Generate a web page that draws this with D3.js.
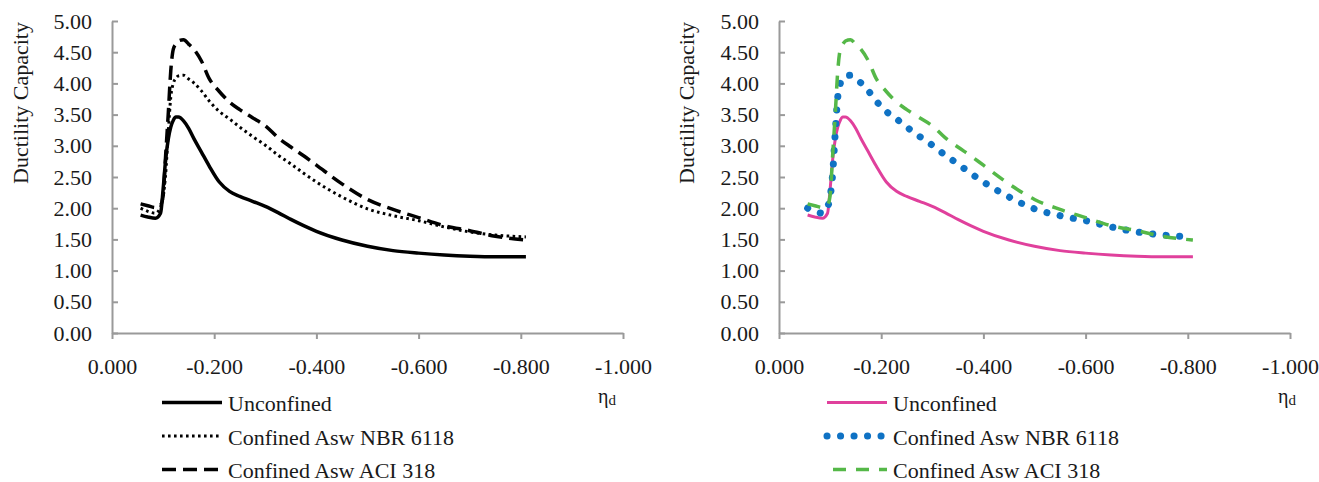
<!DOCTYPE html>
<html>
<head>
<meta charset="utf-8">
<script src="https://cdn.jsdelivr.net/npm/d3@7"></script>
<style>
  body { margin: 0; background: #fff; }
  svg text { font-family: "Liberation Serif", "Times New Roman", serif; fill: #1a1a1a; }
</style>
</head>
<body>
<script>
  /* DATA */
  var eta = [-0.056, -0.07, -0.085, -0.095, -0.10, -0.105, -0.11, -0.115, -0.12, -0.125,
    -0.13, -0.14, -0.15, -0.16, -0.175, -0.19, -0.21, -0.23, -0.25, -0.275,
    -0.30, -0.325, -0.35, -0.375, -0.40, -0.45, -0.50, -0.55, -0.60, -0.65,
    -0.70, -0.75, -0.81];

  var unconfined = [1.89, 1.86, 1.84, 1.92, 2.30, 2.78, 3.10, 3.30, 3.41, 3.46,
    3.46, 3.40, 3.28, 3.12, 2.90, 2.68, 2.42, 2.27, 2.19, 2.11,
    2.03, 1.93, 1.82, 1.72, 1.63, 1.49, 1.39, 1.32, 1.28, 1.25,
    1.23, 1.22, 1.22];

  var nbr6118 = [2.00, 1.95, 1.92, 2.02, 2.18, 2.55, 3.20, 3.78, 4.00, 4.08,
    4.12, 4.13, 4.07, 4.01, 3.88, 3.72, 3.55, 3.43, 3.30, 3.15,
    3.01, 2.85, 2.71, 2.56, 2.42, 2.18, 1.99, 1.88, 1.80, 1.70,
    1.62, 1.57, 1.54];

  var aci318 = [2.07, 2.04, 2.01, 2.05, 2.20, 2.85, 3.50, 4.20, 4.55, 4.63,
    4.68, 4.70, 4.63, 4.55, 4.36, 4.08, 3.87, 3.70, 3.58, 3.45,
    3.32, 3.13, 2.98, 2.84, 2.69, 2.39, 2.14, 1.98, 1.85, 1.72,
    1.64, 1.55, 1.49];

  var seriesNames = ["Unconfined", "Confined Asw NBR 6118", "Confined Asw ACI 318"];
  var xTicks = [0, -0.2, -0.4, -0.6, -0.8, -1.0];
  var yTicks = [0, 0.5, 1, 1.5, 2, 2.5, 3, 3.5, 4, 4.5, 5];

  /* DIMENSIONS */
  var width = 1319, height = 482;
  var plotTop = 21, plotBottom = 333, plotW = 511;

  var svg = d3.select("body").append("svg")
    .attr("width", width)
    .attr("height", height);

  var styles = {
    mono: [
      { color: "#000", width: 3.5, dash: null, cap: "butt" },
      { color: "#000", width: 3, dash: "2.6 3.4", cap: "butt" },
      { color: "#000", width: 3.5, dash: "14 7", cap: "butt" }
    ],
    color: [
      { color: "#e0409c", width: 3, dash: null, cap: "butt" },
      { color: "#0f72c4", width: 7, dash: "0.1 13.4", cap: "round" },
      { color: "#55b848", width: 3.5, dash: "13 10", cap: "butt", legendOffset: 17 }
    ]
  };

  var panels = [
    { left: 112, style: styles.mono, labelX: 28, legendX: 162, etaX: 598 },
    { left: 779, style: styles.color, labelX: 694, legendX: 827, etaX: 1278 }
  ];

  var allSeries = [unconfined, nbr6118, aci318];

  panels.forEach(function(p) {
    var x = d3.scaleLinear().domain([0, -1]).range([p.left, p.left + plotW]);
    var y = d3.scaleLinear().domain([0, 5]).range([plotBottom, plotTop]);

    // y axis, ticks pointing inward
    var ya = svg.append("g")
      .attr("transform", `translate(${p.left},0)`)
      .call(d3.axisLeft(y).tickValues(yTicks).tickSizeInner(-6).tickSizeOuter(0)
        .tickPadding(20).tickFormat(function(d) { return d.toFixed(2); }));

    var xa = svg.append("g")
      .attr("transform", `translate(0,${plotBottom})`)
      .call(d3.axisBottom(x).tickValues(xTicks).tickSizeInner(6).tickSizeOuter(0)
        .tickPadding(19).tickFormat(function(d) { return d.toFixed(3); }));

    [ya, xa].forEach(function(a) {
      a.select(".domain").attr("stroke", "#9a9a9a").attr("stroke-width", 2);
      a.selectAll(".tick line").attr("stroke", "#9a9a9a").attr("stroke-width", 2);
      a.selectAll(".tick text")
        .style("font-size", "22px")
        .style("font-family", "'Liberation Serif', 'Times New Roman', serif")
        .attr("fill", "#1a1a1a");
    });
    ya.selectAll(".tick text").attr("x", -20);

    svg.append("text")
      .attr("transform", `translate(${p.labelX},${(plotTop + 185) / 2}) rotate(-90)`)
      .attr("text-anchor", "middle")
      .style("font-size", "22px")
      .text("Ductility Capacity");

    var line = d3.line()
      .x(function(d) { return x(d[0]); })
      .y(function(d) { return y(d[1]); })
      .curve(d3.curveMonotoneX);

    allSeries.forEach(function(vals, i) {
      var s = p.style[i];
      svg.append("path")
        .datum(eta.map(function(e, j) { return [e, vals[j]]; }))
        .attr("fill", "none")
        .attr("stroke", s.color)
        .attr("stroke-width", s.width)
        .attr("stroke-dasharray", s.dash)
        .attr("stroke-linecap", s.cap)
        .attr("stroke-linejoin", "round")
        .attr("d", line);
    });

    // legend
    seriesNames.forEach(function(name, i) {
      var s = p.style[i];
      var ly = 402.5 + i * 33.5;
      svg.append("line")
        .attr("x1", p.legendX).attr("x2", p.legendX + 60)
        .attr("y1", ly).attr("y2", ly)
        .attr("stroke", s.color)
        .attr("stroke-width", s.width)
        .attr("stroke-dasharray", s.dash)
        .attr("stroke-dashoffset", s.legendOffset || 0)
        .attr("stroke-linecap", s.cap);
      svg.append("text")
        .attr("x", p.legendX + 66)
        .attr("y", ly + 8.5)
        .style("font-size", "22px")
        .text(name);
    });

    // axis title
    var t = svg.append("text")
      .attr("x", p.etaX)
      .attr("y", 403)
      .style("font-size", "20px");
    t.append("tspan").text("η");
    t.append("tspan").attr("dy", 2).style("font-size", "15px").text("d");
  });
</script>
</body>
</html>
